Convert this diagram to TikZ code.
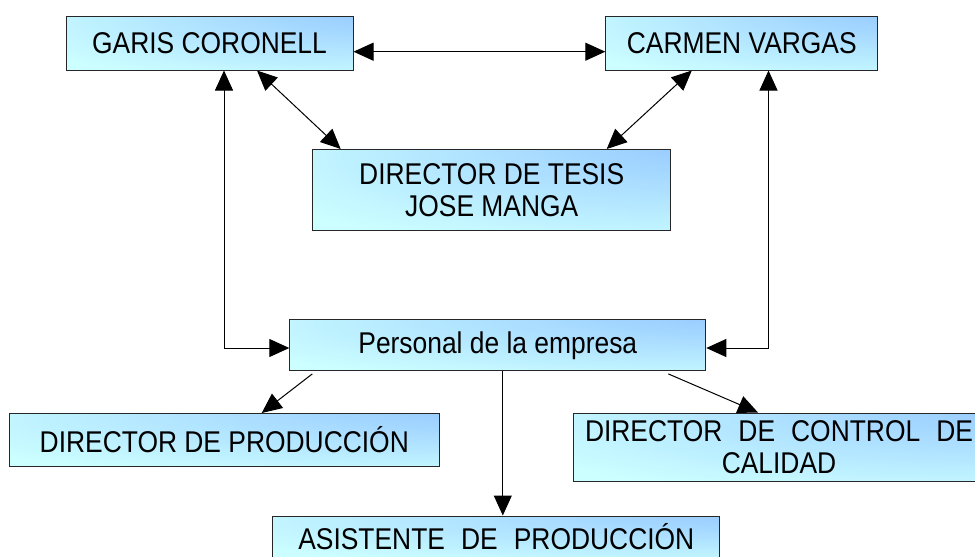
\documentclass[tikz,border=0pt]{standalone}
\usepackage{fontspec}
\newfontfamily\letra{Liberation Sans}[FakeStretch=0.88]
\usetikzlibrary{arrows.meta}
\definecolor{cianC}{HTML}{CCFFFF}
\definecolor{azulC}{HTML}{99CCFF}
\pgfdeclareradialshading{esquina}{\pgfpoint{40bp}{40bp}}{color(0bp)=(azulC); color(12bp)=(azulC); color(55bp)=(cianC); color(100bp)=(cianC)}

\begin{document}
\begin{tikzpicture}[x=1pt,y=-1pt,
  caja/.style={draw=black!85,line width=1pt,shade,shading=esquina,inner sep=0pt,align=center,font=\letra\fontsize{30}{32}\selectfont},
  flecha/.style={-{Triangle[length=20pt,width=18pt]},line width=1pt},
  doble/.style={{Triangle[length=20pt,width=18pt]}-{Triangle[length=20pt,width=18pt]},line width=1pt}]
\useasboundingbox (0,0) rectangle (975,557);
\node[caja,minimum width=287pt,minimum height=54pt] (garis) at (209.5,43) {GARIS CORONELL};
\node[caja,minimum width=272pt,minimum height=54pt] (carmen) at (741.8,43) {CARMEN VARGAS};
\node[caja,minimum width=358pt,minimum height=81pt] (tesis) at (491.7,190) {DIRECTOR DE TESIS\\JOSE MANGA};
\node[caja,minimum width=416pt,minimum height=51pt] (personal) at (497.8,345.3) {Personal de la empresa};
\node[caja,minimum width=430pt,minimum height=53pt] (produccion) at (224.3,440) {DIRECTOR DE PRODUCCIÓN};
\node[caja,minimum width=412pt,minimum height=68pt] (calidad) at (779,447) {\makebox[388pt][s]{DIRECTOR DE CONTROL DE}\\CALIDAD};
\node[caja,minimum width=447pt,minimum height=42pt] (asistente) at (496.3,537) {\makebox[396pt][s]{ASISTENTE DE PRODUCCIÓN}};
\coordinate (codoA) at (224,348);
\coordinate (codoB) at (768.5,348);
\draw[doble] ([yshift=-8.7pt]garis.east) -- ([yshift=-8.7pt]carmen.west);
\draw[doble] ([xshift=47.5pt]garis.south) -- ([xshift=-151pt]tesis.north);
\draw[doble] ([xshift=-50pt]carmen.south) -- ([xshift=115pt]tesis.north);
\draw[doble] (garis.south -| codoA) |- (personal.west |- codoA);
\draw[doble] (carmen.south -| codoB) |- (personal.east |- codoB);
\draw[flecha] ([xshift=-185.5pt,yshift=-2.6pt]personal.south) -- ([xshift=37.4pt]produccion.north);
\draw[flecha] ([xshift=5pt]personal.south) -- ([xshift=5pt]personal.south |- asistente.north);
\draw[flecha] ([xshift=170.5pt,yshift=-2.6pt]personal.south) -- ([xshift=-21pt]calidad.north);
\end{tikzpicture}
\end{document}
